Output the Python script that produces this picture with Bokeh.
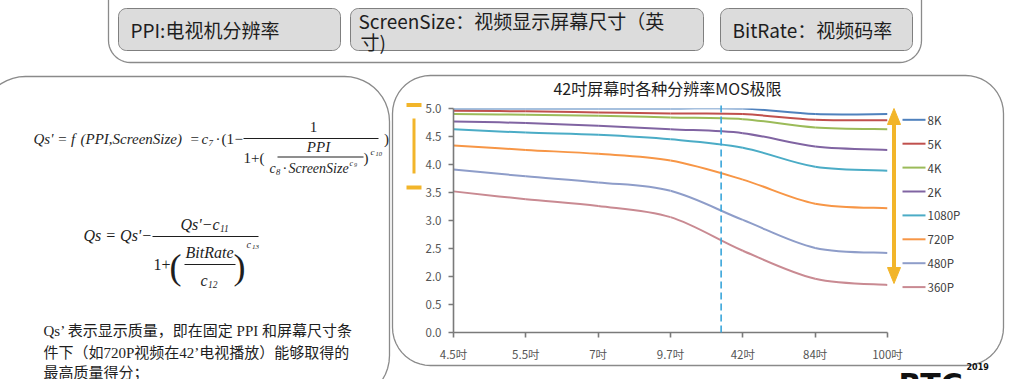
import numpy as np
from bokeh.plotting import figure
from bokeh.models import Range1d, FixedTicker
from bokeh.core.properties import value
from bokeh.embed import file_html
from bokeh.resources import INLINE

# ---------------- data ----------------
sizes = ["4.5吋", "5.5吋", "7吋", "9.7吋", "42吋", "84吋", "100吋"]
series_names = ["8K", "5K", "4K", "2K", "1080P", "720P", "480P", "360P"]
mos_8k = [5.00, 5.00, 5.00, 5.00, 5.00, 4.90, 4.90]
mos_5k = [4.96, 4.95, 4.93, 4.91, 4.90, 4.80, 4.79]
mos_4k = [4.90, 4.89, 4.87, 4.84, 4.81, 4.66, 4.63]
mos_2k = [4.77, 4.74, 4.69, 4.63, 4.56, 4.32, 4.26]
mos_1080p = [4.63, 4.57, 4.53, 4.45, 4.30, 3.96, 3.89]
mos_720p = [4.34, 4.26, 4.19, 4.07, 3.73, 3.30, 3.22]
mos_480p = [3.91, 3.79, 3.68, 3.53, 3.01, 2.51, 2.42]
mos_360p = [3.52, 3.38, 3.26, 3.06, 2.46, 1.96, 1.85]
series_values = [mos_8k, mos_5k, mos_4k, mos_2k, mos_1080p, mos_720p, mos_480p, mos_360p]
series_colors = ["#4F81BD", "#C0504D", "#9BBB59", "#8064A2", "#4BACC6", "#F79646", "#8E9DC9", "#C98A92"]
y_ticks = [1.0, 1.5, 2.0, 2.5, 3.0, 3.5, 4.0, 4.5, 5.0]
y_tick_labels = ["0.0", "0.5", "2.0", "2.5", "3.0", "3.5", "4.0", "4.5", "5.0"]
marker_x = 3.7  # dashed marker between 9.7吋 and 42吋

CJK = "Noto Sans CJK SC"
SERIF = "Liberation Serif"
GOLD = "#F2B52A"

# ---------------- figure ----------------
p = figure(width=1009, height=379, output_backend="svg", toolbar_location=None,
           x_range=Range1d(0, 6), y_range=Range1d(1.0, 5.0),
           min_border_left=453, min_border_right=122, min_border_top=108, min_border_bottom=47)
p.background_fill_color = "white"
p.border_fill_color = "white"
p.outline_line_color = None
p.xgrid.visible = False
p.ygrid.visible = False
# page-pixel ranges for the slide decorations (frame spans page x 453..887, y 108..332)
p.extra_x_ranges = {"px": Range1d(453, 887)}
p.extra_y_ranges = {"py": Range1d(332, 108)}

# axes
xa = p.xaxis[0]
xa.ticker = FixedTicker(ticks=list(range(len(sizes))))
xa.major_label_overrides = {i: s for i, s in enumerate(sizes)}
ya = p.yaxis[0]
ya.ticker = FixedTicker(ticks=y_ticks)
ya.major_label_overrides = {t: l for t, l in zip(y_ticks, y_tick_labels)}
for ax in (xa, ya):
    ax.axis_line_color = "#7a7a7a"
    ax.axis_line_width = 1.6
    ax.major_tick_line_color = "#7a7a7a"
    ax.major_tick_line_width = 1.6
    ax.major_tick_in = 0
    ax.major_tick_out = 5
    ax.minor_tick_line_color = None
    ax.major_label_text_font = CJK
    ax.major_label_text_font_size = "11.5px"
    ax.major_label_text_color = "#555555"
xa.major_label_standoff = 8
ya.major_label_standoff = 7


def bez(ys):
    x = np.arange(len(ys), dtype=float)
    y = np.asarray(ys, dtype=float)
    xp = np.concatenate([[x[0]], x, [x[-1]]])
    yp = np.concatenate([[y[0]], y, [y[-1]]])
    n = len(x)
    d = dict(x0=[], y0=[], x1=[], y1=[], cx0=[], cy0=[], cx1=[], cy1=[])
    for i in range(n - 1):
        d["x0"].append(x[i]); d["y0"].append(y[i])
        d["x1"].append(x[i + 1]); d["y1"].append(y[i + 1])
        d["cx0"].append(x[i] + (x[i + 1] - xp[i]) / 6)
        d["cy0"].append(y[i] + (y[i + 1] - yp[i]) / 6)
        d["cx1"].append(x[i + 1] - (xp[i + 3] - x[i]) / 6)
        d["cy1"].append(y[i + 1] - (yp[i + 3] - y[i]) / 6)
    return d


for name, vals, col in reversed(list(zip(series_names, series_values, series_colors))):
    d = bez(vals)
    p.bezier(x0=d["x0"], y0=d["y0"], x1=d["x1"], y1=d["y1"],
             cx0=d["cx0"], cy0=d["cy0"], cx1=d["cx1"], cy1=d["cy1"],
             line_color=col, line_width=2)

# dashed marker
p.segment(x0=[marker_x], y0=[1.0], x1=[marker_x], y1=[5.08], line_color="#3AA6DA",
          line_width=1.6, line_dash="7 4", level="overlay")


# ---------------- decorations (page pixel coords) ----------------
def rrect(x0, y0, x1, y1, r, n=12):
    xs, ys = [], []
    for cx, cy, a0 in [(x1 - r, y0 + r, -np.pi / 2), (x1 - r, y1 - r, 0.0),
                       (x0 + r, y1 - r, np.pi / 2), (x0 + r, y0 + r, np.pi)]:
        t = np.linspace(a0, a0 + np.pi / 2, n)
        xs.extend(cx + r * np.cos(t)); ys.extend(cy + r * np.sin(t))
    return xs, ys


def box(x0, y0, x1, y1, r, fill=None, line="#8a8a8a", lw=1.3):
    xs, ys = rrect(x0, y0, x1, y1, r)
    p.patch(xs, ys, fill_color=fill if fill else "white", fill_alpha=1.0 if fill else 0.0,
            line_color=line, line_width=lw, x_range_name="px", y_range_name="py", level="overlay")


def txt(x, y, s, size, font=CJK, style="normal", align="left", base="middle", color="#1e1e1e"):
    p.text(x=[x], y=[y], text=[s], text_font=value(font), text_font_size=f"{size}px",
           text_font_style=style, text_align=align, text_baseline=base, text_color=color,
           x_range_name="px", y_range_name="py", level="overlay")


def hbar(x0, x1, y, lw=1.0, color="#1e1e1e"):
    p.segment(x0=[x0], y0=[y], x1=[x1], y1=[y], line_color=color, line_width=lw,
              x_range_name="px", y_range_name="py", level="overlay")


def varrow(x, y_top, y_bot, lw, head_len, head_half):
    p.segment(x0=[x], y0=[y_top + head_len - 1], x1=[x], y1=[y_bot - head_len + 1], line_color=GOLD,
              line_width=lw, x_range_name="px", y_range_name="py", level="overlay")
    p.patches(xs=[[x, x - head_half, x + head_half], [x, x - head_half, x + head_half]],
              ys=[[y_top, y_top + head_len, y_top + head_len], [y_bot, y_bot - head_len, y_bot - head_len]],
              fill_color=GOLD, line_color=GOLD, line_width=1,
              x_range_name="px", y_range_name="py", level="overlay")


# top panel
box(108, -30, 921, 62, 22)
box(118, 8, 340, 50, 8, fill="#dcdcdc", line="#7f7f7f", lw=1.0)
box(350, 8, 703, 50, 8, fill="#dcdcdc", line="#7f7f7f", lw=1.0)
box(720, 8, 912, 50, 8, fill="#dcdcdc", line="#7f7f7f", lw=1.0)
txt(130, 29, "PPI:电视机分辨率", 19)
txt(358, 20, "ScreenSize：视频显示屏幕尺寸（英", 19)
txt(360, 41, "寸)", 19)
txt(732, 29, "BitRate：视频码率", 19)

# left panel and chart panel
box(-20, 76, 389, 400, 45)
box(392, 75, 1003, 365, 38)

# formula 1
F = 15
txt(33, 138, "Qs' = f", F, SERIF, "italic")
txt(80, 138, "(PPI,ScreenSize)", F, SERIF, "italic")
txt(190, 138, "=", F, SERIF)
txt(201, 138, "c", F, SERIF, "italic")
txt(208, 142, "7", 9, SERIF, "italic")
txt(215, 138, "·", F, SERIF)
txt(221, 138, "(1", F, SERIF)
txt(234, 138, "−", F, SERIF)
hbar(243, 378, 138)
txt(313, 126, "1", F, SERIF, align="center")
txt(386, 138, ")", F, SERIF, align="center")
txt(243, 157, "1+(", F, SERIF)
txt(318, 146, "PPI", F, SERIF, "italic", align="center")
hbar(277, 363, 156.5)
txt(269, 168, "c", 14, SERIF, "italic")
txt(275.5, 171, "8", 8.5, SERIF, "italic")
txt(282, 168, "·", 14, SERIF)
txt(288, 168, "ScreenSize", 14, SERIF, "italic")
txt(349, 163, "c", 8, SERIF, "italic")
txt(353.5, 164.5, "9", 6, SERIF, "italic")
txt(363, 157, ")", F, SERIF)
txt(370, 151, "c", 9, SERIF, "italic")
txt(375, 153, "10", 6.5, SERIF, "italic")

# formula 2
F2 = 16
txt(83, 235, "Qs = Qs'−", F2, SERIF, "italic")
hbar(152, 258, 236)
txt(180, 224, "Qs'−c", F2, SERIF, "italic")
txt(219.5, 228, "11", 9.5, SERIF, "italic")
txt(153, 264, "1+", F2, SERIF)
txt(175, 266, "(", 36, SERIF, align="center")
txt(239, 266, ")", 36, SERIF, align="center")
txt(209, 252, "BitRate", F2, SERIF, "italic", align="center")
hbar(184, 235, 264)
txt(200, 280, "c", F2, SERIF, "italic")
txt(207.5, 284, "12", 9.5, SERIF, "italic")
txt(246, 244, "c", 10, SERIF, "italic")
txt(251.5, 246, "13", 7, SERIF, "italic")

# explanation
PF = SERIF + ", " + CJK
txt(43, 330, "Qs’ 表示显示质量，即在固定 PPI 和屏幕尺寸条", 15, PF)
txt(43, 352, "件下（如720P视频在42’电视播放）能够取得的", 15, PF)
txt(43, 372, "最高质量得分；", 15, PF)

# chart title
txt(667, 87, "42吋屏幕时各种分辨率MOS极限", 16, CJK, align="center")

# legend
for i, (name, col) in enumerate(zip(series_names, series_colors)):
    yy = 119.3 + i * 23.9
    p.segment(x0=[902], y0=[yy], x1=[925], y1=[yy], line_color=col, line_width=2,
              x_range_name="px", y_range_name="py", level="overlay")
    txt(927, yy, name, 11.5, CJK, color="#404040")

# yellow range markers
hbar(406, 421, 104.5, lw=4, color=GOLD)
hbar(406, 421, 187, lw=4, color=GOLD)
varrow(413.5, 107, 184, 3, 12, 5.5)
varrow(893.5, 108, 283, 4, 16, 6.5)

# partially visible logo
txt(898, 366, "RTC", 30, "DejaVu Sans", "bold", base="top", color="#111111")
txt(966, 366, "2019", 8, "DejaVu Sans", "bold", color="#111111")

open("out.html", "w").write(file_html(p, INLINE))
